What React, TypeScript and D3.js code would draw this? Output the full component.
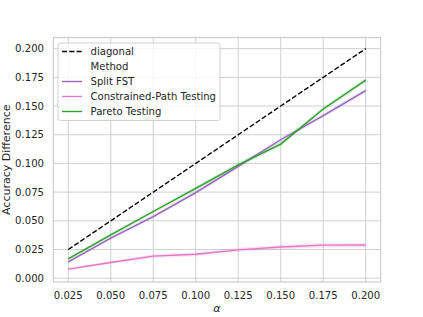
import * as d3 from 'd3';

const alphas = [0.025, 0.05, 0.075, 0.1, 0.125, 0.15, 0.175, 0.2];
const diagonal = [0.025, 0.05, 0.075, 0.1, 0.125, 0.15, 0.175, 0.2];
const splitFst = [0.0142, 0.0349, 0.0537, 0.0745, 0.0974, 0.1206, 0.1416, 0.1634];
const splitCi = [0.0012, 0.0014, 0.0015, 0.0016, 0.0016, 0.0017, 0.0017, 0.0018];
const constrained = [0.0079, 0.0137, 0.0192, 0.0209, 0.0247, 0.0272, 0.0288, 0.0289];
const constrainedCi = [0.0012, 0.0014, 0.0016, 0.0018, 0.0019, 0.002, 0.0021, 0.0021];
const pareto = [0.0168, 0.0378, 0.0581, 0.0782, 0.0988, 0.1168, 0.1474, 0.1726];
const paretoCi = [0.0012, 0.0014, 0.0015, 0.0016, 0.0017, 0.0019, 0.0018, 0.0018];
const xTicks = [0.025, 0.05, 0.075, 0.1, 0.125, 0.15, 0.175, 0.2];
const yTicks = [0, 0.025, 0.05, 0.075, 0.1, 0.125, 0.15, 0.175, 0.2];

const series = [
  { name: 'Split FST', values: splitFst, ci: splitCi, color: '#9467bd' },
  { name: 'Constrained-Path Testing', values: constrained, ci: constrainedCi, color: '#e377c2' },
  { name: 'Pareto Testing', values: pareto, ci: paretoCi, color: '#2ca02c' },
];

const W = 423;
const H = 317;
const left = 53.4;
const right = 380.6;
const top = 37.5;
const bottom = 282;
const textColor = '#262626';
const gridColor = '#cccccc';
const font = 'DejaVu Sans, sans-serif';

export default function App() {
  const x = d3.scaleLinear().domain([0.01625, 0.20875]).range([left, right]);
  const y = d3.scaleLinear().domain([-0.0033, 0.2097]).range([bottom, top]);

  const line = d3.line<number>()
    .x((_, i) => x(alphas[i]))
    .y((d) => y(d));

  const band = (vals: number[], ci: number[]) =>
    d3.area<number>()
      .x((_, i) => x(alphas[i]))
      .y0((d, i) => y(d - ci[i]))
      .y1((d, i) => y(d + ci[i]))(vals) || '';

  const legendX = 58;
  const legendY = 43;
  const rowH = 15;
  const legendRows = [
    { label: 'diagonal', color: '#000', dash: true, handle: true },
    { label: 'Method', color: '', dash: false, handle: false },
    ...series.map((s) => ({ label: s.name, color: s.color, dash: false, handle: true })),
  ];

  return (
    <svg width={W} height={H} style={{ position: 'absolute', left: 0, top: 0, background: '#fff' }}
      fontFamily={font}>
      {/* grid */}
      {xTicks.map((t) => (
        <line key={'gx' + t} x1={x(t)} x2={x(t)} y1={top} y2={bottom} stroke={gridColor} strokeWidth={0.92} />
      ))}
      {yTicks.map((t) => (
        <line key={'gy' + t} x1={left} x2={right} y1={y(t)} y2={y(t)} stroke={gridColor} strokeWidth={0.92} />
      ))}

      {/* bands and lines */}
      <path d={line(diagonal) || ''} fill="none" stroke="#000" strokeWidth={1.375} strokeDasharray="5.1,2.2" />
      {series.map((s) => (
        <path key={'b' + s.name} d={band(s.values, s.ci)} fill={s.color} fillOpacity={0.2} stroke="none" />
      ))}
      {series.map((s) => (
        <path key={'l' + s.name} d={line(s.values) || ''} fill="none" stroke={s.color} strokeWidth={1.375} />
      ))}

      {/* spines */}
      <rect x={left} y={top} width={right - left} height={bottom - top} fill="none" stroke={gridColor} strokeWidth={1.15} />

      {/* tick labels */}
      {xTicks.map((t) => (
        <text key={'tx' + t} x={x(t)} y={299} textAnchor="middle" fontSize={10.1} fill={textColor}>
          {d3.format('.3f')(t)}
        </text>
      ))}
      {yTicks.map((t) => (
        <text key={'ty' + t} x={44} y={y(t)} dy="0.35em" textAnchor="end" fontSize={10.1} fill={textColor}>
          {d3.format('.3f')(t)}
        </text>
      ))}

      {/* axis labels */}
      <text x={(left + right) / 2} y={312} textAnchor="middle" fontSize={11} fontStyle="italic" fill={textColor}>α</text>
      <text transform={`translate(10,${(top + bottom) / 2}) rotate(-90)`} textAnchor="middle" fontSize={11} fill={textColor}>
        Accuracy Difference
      </text>

      {/* legend */}
      <rect x={legendX} y={legendY} width={162} height={77.5} rx={2.5} fill="#fff" fillOpacity={0.8}
        stroke={gridColor} strokeWidth={0.9} />
      {legendRows.map((r, i) => {
        const cy = legendY + 8.5 + i * rowH;
        return (
          <g key={'lg' + r.label}>
            {r.handle && (
              <line x1={62} x2={82} y1={cy} y2={cy} stroke={r.color} strokeWidth={1.375}
                strokeDasharray={r.dash ? '5.1,2.2' : undefined} />
            )}
            <text x={90.5} y={cy} dy="0.35em" fontSize={10.1} fill={textColor}>{r.label}</text>
          </g>
        );
      })}
    </svg>
  );
}
